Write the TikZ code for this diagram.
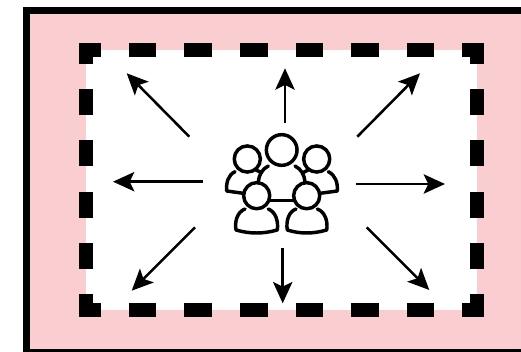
\documentclass[tikz,border=0pt]{standalone}
\usepackage{tikz}
\usetikzlibrary{arrows.meta}

\definecolor{zonepink}{RGB}{250,206,209}

\tikzset{
    outerbox/.style={draw=black,fill=zonepink,line width=5.25pt},
    hdash/.style={draw=black,line width=10.1pt,dash pattern=on 20.7pt off 21pt,dash phase=4.3pt},
    vdash/.style={draw=black,line width=10.1pt,dash pattern=on 19.4pt off 19.1pt,dash phase=3.9pt},
    spread/.style={draw=black,line width=1.9pt,-{Stealth[length=16pt,width=14.5pt,inset=3.5pt]}},
    person/.style={draw=black,line width=2.6pt,line cap=round,line join=round},
    head/.style={circle,person,inner sep=0pt,minimum size=19.6pt},
}

\begin{document}
\begin{tikzpicture}[x=0.75pt,y=-0.75pt]
\useasboundingbox (0,0) rectangle (521,352);
\clip (0,0) rectangle (521,352);

% corners of the zone
\coordinate (tl) at (86,50);
\coordinate (tr) at (477,50);
\coordinate (bl) at (86,310);
\coordinate (br) at (477,310);

\draw[outerbox] (26.5,10.5) rectangle (535,352.5);
\fill[white] (tl) rectangle (br);

% dashed border, each side on its own
\draw[hdash] (79,50) -- (483,50);
\draw[hdash] (79,310) -- (483,310);
\draw[vdash] (86,43) -- (86,317);
\draw[vdash] (477,43) -- (477,317);

% people
\node[head,minimum size=23pt] (headc) at (281.7,150) {};
\node[head] (headl) at (247.3,159) {};
\node[head] (headr) at (316.7,159) {};
\node[head] (headbl) at (256.7,195.7) {};
\node[head] (headbr) at (306.7,195.7) {};

\draw[person] (268.3,166) .. controls (262,169) and (259,175) .. (258.3,181.7);
\draw[person] (295,166) .. controls (301.3,169) and (304.3,175) .. (305,181.7);
\draw[person] (270,200.7) -- (295,200.7);
\draw[person] (235,171.7) .. controls (228,175) and (226,183) .. (226.7,191) -- (243.3,193.3);
\draw[person] (328.3,171.7) .. controls (335.3,175) and (338,183) .. (337.3,191) -- (320,193.3);
\draw[person] (256,170) -- (261.7,172.7);
\draw[person] (308.3,170) -- (302.7,172.7);
\draw[person] (245,209) .. controls (237,212) and (234.5,222) .. (236,230)
    .. controls (250,234) and (263,234) .. (277.3,230)
    .. controls (278.5,222) and (276,212) .. (268.3,209);
\draw[person] (296,209) .. controls (288,212) and (286,222) .. (287.3,230)
    .. controls (300,234) and (313,234) .. (326.7,230)
    .. controls (328,222) and (325.5,212) .. (317.3,209);

% arrows going out
\foreach \dir/\sx/\sy/\ex/\ey in {nw/189.3/136.7/126.7/73.3, n/285/123.3/285/68.3, ne/357.3/136.7/420/73.3,
    e/356/184/445/184, w/203.3/181.7/113/181.7,
    sw/195/227.3/131.7/290.7, s/282.7/248.3/282.7/303.3, se/366.7/227.3/429.3/290}
{
    \coordinate (from\dir) at (\sx,\sy);
    \coordinate (to\dir) at (\ex,\ey);
    \draw[spread] (from\dir) -- (to\dir);
}
\end{tikzpicture}
\end{document}
